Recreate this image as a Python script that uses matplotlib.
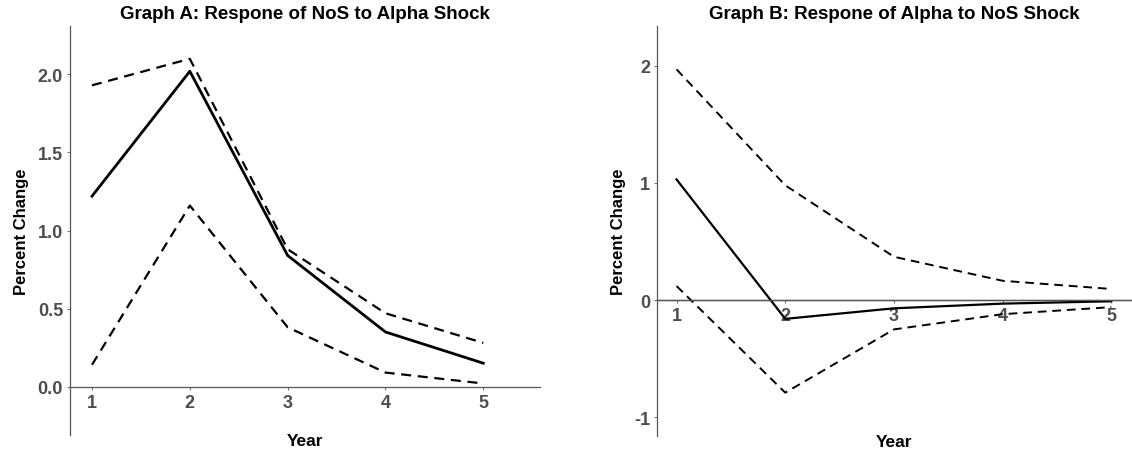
import matplotlib
matplotlib.use("Agg")
import matplotlib.pyplot as plt

plt.rcParams['font.family'] = ['Liberation Sans', 'DejaVu Sans']

years = [1, 2, 3, 4, 5]

# Graph A: NoS response to alpha shock
a_mid = [1.22, 2.02, 0.84, 0.35, 0.15]
a_up = [1.93, 2.10, 0.88, 0.47, 0.28]
a_lo = [0.14, 1.16, 0.38, 0.09, 0.02]
a_yticks = [0.0, 0.5, 1.0, 1.5, 2.0]
a_ylabels = ["0.0", "0.5", "1.0", "1.5", "2.0"]

# Graph B: alpha response to NoS shock
b_mid = [1.03, -0.16, -0.07, -0.03, -0.01]
b_up = [1.97, 0.98, 0.37, 0.165, 0.095]
b_lo = [0.12, -0.79, -0.25, -0.12, -0.06]
b_yticks = [-1, 0, 1, 2]
b_ylabels = ["-1", "0", "1", "2"]

titles = ["Graph A: Respone of NoS to Alpha Shock",
          "Graph B: Respone of Alpha to NoS Shock"]

fig = plt.figure(figsize=(11.32, 4.52), dpi=100)
axA = fig.add_axes([70/1132, 16/452, 470/1132, 409/452])
axB = fig.add_axes([657/1132, 15/452, 475/1132, 410/452])

dash = (0, (4.5, 3))
grey = "#4d4d4d"

def style(ax, title, yt, yl, xlim, ylim):
    ax.set_xlim(*xlim)
    ax.set_ylim(*ylim)
    for s in ["top", "right"]:
        ax.spines[s].set_visible(False)
    ax.spines["bottom"].set_position(("data", 0))
    ax.spines["left"].set_color("#555555")
    ax.spines["bottom"].set_color("#555555")
    ax.spines["left"].set_linewidth(0.9)
    ax.spines["bottom"].set_linewidth(0.9)
    ax.set_xticks(years)
    ax.set_xticklabels([str(y) for y in years])
    ax.set_yticks(yt)
    ax.set_yticklabels(yl)
    ax.tick_params(colors="#555555", length=2, width=0.6, labelsize=13,
                   labelcolor=grey, pad=3)
    for lab in ax.get_xticklabels() + ax.get_yticklabels():
        lab.set_fontweight("bold")
    ax.set_title(title, fontsize=13.5, fontweight="bold", pad=6)
    ax.set_ylabel("Percent Change", fontsize=12, fontweight="bold")
    ax.set_xlabel("Year", fontsize=12.5, fontweight="bold", va="center")
    ax.xaxis.set_label_coords(0.5, -0.014)

axA.plot(years, a_mid, color="black", lw=2.0)
axA.plot(years, a_up, color="black", lw=1.6, linestyle=dash)
axA.plot(years, a_lo, color="black", lw=1.6, linestyle=dash)
style(axA, titles[0], a_yticks, a_ylabels, (0.775, 5.58), (-0.31, 2.31))
axA.yaxis.set_label_coords(-0.088, 0.5)

axB.axhline(0, color="black", lw=0.9)
axB.plot(years, b_mid, color="black", lw=1.6)
axB.plot(years, b_up, color="black", lw=1.4, linestyle=dash)
axB.plot(years, b_lo, color="black", lw=1.4, linestyle=dash)
style(axB, titles[1], b_yticks, b_ylabels, (0.82, 5.19), (-1.16, 2.34))
axB.yaxis.set_label_coords(-0.066, 0.5)

fig.savefig("out.png", dpi=100)
